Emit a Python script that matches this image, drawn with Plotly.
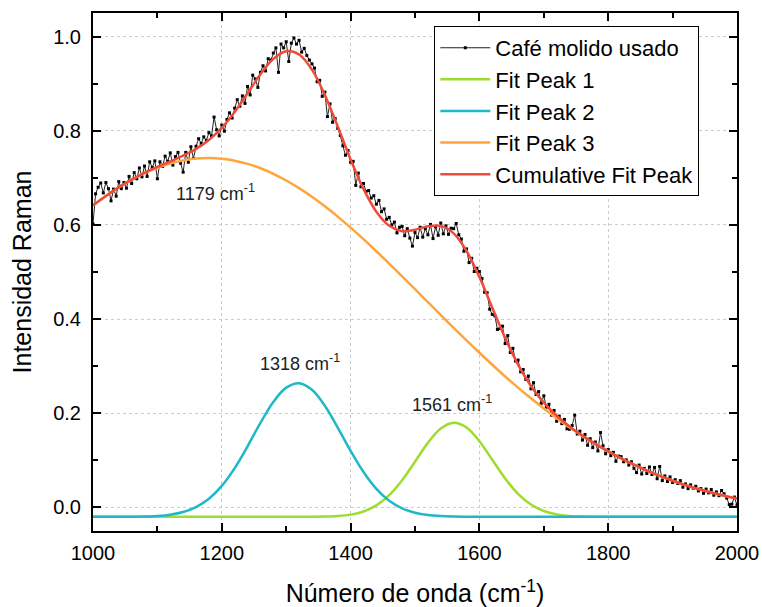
import plotly.graph_objects as go

# ---- measured spectrum (Café molido usado), step 4 cm-1 from 1000 to 2000 ----
data_x = list(range(1000, 2001, 4))
data_y = [
    0.602, 0.666, 0.680, 0.689, 0.668,
    0.690, 0.677, 0.651, 0.676, 0.661,
    0.692, 0.677, 0.690, 0.678, 0.703,
    0.688, 0.711, 0.698, 0.721, 0.702,
    0.725, 0.703, 0.734, 0.722, 0.736,
    0.698, 0.734, 0.724, 0.746, 0.735,
    0.753, 0.727, 0.745, 0.754, 0.731,
    0.712, 0.754, 0.733, 0.766, 0.741,
    0.767, 0.783, 0.773, 0.787, 0.779,
    0.796, 0.789, 0.829, 0.802, 0.789,
    0.812, 0.799, 0.824, 0.838, 0.827,
    0.848, 0.866, 0.852, 0.874, 0.858,
    0.894, 0.876, 0.918, 0.910, 0.892,
    0.924, 0.938, 0.927, 0.953, 0.950,
    0.965, 0.976, 0.924, 0.984, 0.976,
    0.989, 0.947, 0.986, 0.997, 0.984,
    0.992, 0.967, 0.975, 0.960, 0.950,
    0.942, 0.933, 0.904, 0.907, 0.873,
    0.882, 0.830, 0.857, 0.818, 0.826,
    0.805, 0.790, 0.768, 0.748, 0.758,
    0.733, 0.735, 0.684, 0.710, 0.681,
    0.688, 0.671, 0.673, 0.657, 0.662,
    0.644, 0.652, 0.628, 0.634, 0.612,
    0.616, 0.600, 0.606, 0.583, 0.595,
    0.597, 0.577, 0.592, 0.572, 0.555,
    0.584, 0.573, 0.595, 0.574, 0.592,
    0.579, 0.601, 0.571, 0.596, 0.578,
    0.604, 0.581, 0.598, 0.580, 0.593,
    0.592, 0.603, 0.579, 0.570, 0.544,
    0.549, 0.520, 0.529, 0.501, 0.508,
    0.501, 0.486, 0.457, 0.456, 0.421,
    0.410, 0.407, 0.378, 0.380, 0.385,
    0.348, 0.365, 0.329, 0.338, 0.311,
    0.313, 0.288, 0.293, 0.272, 0.279,
    0.252, 0.265, 0.240, 0.246, 0.221,
    0.237, 0.213, 0.219, 0.196, 0.206,
    0.183, 0.194, 0.178, 0.187, 0.167,
    0.166, 0.174, 0.196, 0.156, 0.162,
    0.143, 0.155, 0.132, 0.146, 0.127,
    0.139, 0.120, 0.159, 0.131, 0.114,
    0.123, 0.110, 0.117, 0.098, 0.109,
    0.108, 0.097, 0.101, 0.090, 0.097,
    0.083, 0.074, 0.090, 0.071, 0.083,
    0.072, 0.086, 0.070, 0.085, 0.061,
    0.087, 0.057, 0.067, 0.055, 0.065,
    0.053, 0.059, 0.051, 0.057, 0.043,
    0.050, 0.040, 0.048, 0.041, 0.045,
    0.035, 0.040, 0.030, 0.039, 0.031,
    0.038, 0.026, 0.033, 0.025, 0.036,
    0.029, 0.020, 0.006, 0.007, 0.022,
    0.005,
]

# ---- fitted peaks, sampled every 20 cm-1 ----
fit_x = list(range(1000, 2001, 20))
baseline = -0.02
peak1 = ([-0.02] * 17 +
         [-0.0198, -0.0194, -0.0182, -0.0152, -0.0085, 0.0044, 0.0262, 0.0579,
          0.0972, 0.1371, 0.1677, 0.1800, 0.1699, 0.1407, 0.1013, 0.0616,
          0.0289, 0.0062, -0.0075, -0.0147, -0.0180, -0.0193, -0.0198] +
         [-0.02] * 11)
peak2 = ([-0.0200, -0.0200, -0.0199, -0.0197, -0.0193, -0.0181, -0.0154, -0.0098,
          0.0006, 0.0184, 0.0458, 0.0836, 0.1299, 0.1795, 0.2240, 0.2545,
          0.2639, 0.2499, 0.2160, 0.1697, 0.1202, 0.0752, 0.0395, 0.0142,
          -0.0020, -0.0112, -0.0161, -0.0184, -0.0194, -0.0198] +
         [-0.02] * 21)
peak3 = [0.6415, 0.6615, 0.6797, 0.6958, 0.7098, 0.7213, 0.7304, 0.7369, 0.7408,
         0.7420, 0.7405, 0.7364, 0.7296, 0.7203, 0.7085, 0.6943, 0.6780, 0.6596,
         0.6394, 0.6176, 0.5942, 0.5697, 0.5441, 0.5177, 0.4908, 0.4636, 0.4361,
         0.4087, 0.3815, 0.3547, 0.3285, 0.3030, 0.2782, 0.2545, 0.2317, 0.2100,
         0.1894, 0.1700, 0.1518, 0.1348, 0.1189, 0.1043, 0.0908, 0.0784, 0.0671,
         0.0568, 0.0475, 0.0391, 0.0317, 0.0249, 0.0189]
cumulative = [a + b + c - 2 * baseline for a, b, c in zip(peak1, peak2, peak3)]

peak_labels = ["1179 cm<sup>-1</sup>", "1318 cm<sup>-1</sup>", "1561 cm<sup>-1</sup>"]
label_x = [1190, 1321, 1557]
label_y = [0.668, 0.308, 0.221]

assert len(data_x) == len(data_y)
assert len(fit_x) == len(peak1) == len(peak2) == len(peak3)

FONT = "Liberation Sans, Arial, sans-serif"

fig = go.Figure()
fig.add_trace(go.Scatter(
    x=data_x, y=data_y, mode="lines+markers", name="Café molido usado",
    line=dict(color="#222222", width=1),
    marker=dict(symbol="square", size=3, color="black"),
))
fig.add_trace(go.Scatter(x=fit_x, y=peak1, mode="lines", name="Fit Peak 1",
                         line=dict(color="#9CDD2E", width=2.5, shape="spline")))
fig.add_trace(go.Scatter(x=fit_x, y=peak2, mode="lines", name="Fit Peak 2",
                         line=dict(color="#1FB8C6", width=2.5, shape="spline")))
fig.add_trace(go.Scatter(x=fit_x, y=peak3, mode="lines", name="Fit Peak 3",
                         line=dict(color="#FFA53A", width=2.5, shape="spline")))
fig.add_trace(go.Scatter(x=fit_x, y=cumulative, mode="lines", name="Cumulative Fit Peak",
                         line=dict(color="#F04A3A", width=2.5, shape="spline")))

for t, xx, yy in zip(peak_labels, label_x, label_y):
    fig.add_annotation(x=xx, y=yy, text=t, showarrow=False,
                       font=dict(family=FONT, size=18, color="#222222"),
                       xanchor="center", yanchor="middle")

axis_common = dict(
    showline=True, linewidth=2, linecolor="black", mirror="ticks",
    ticks="inside", ticklen=8, tickwidth=2, tickcolor="black",
    showgrid=True, gridcolor="#cccccc", gridwidth=1, griddash="dot",
    zeroline=False, tickfont=dict(family=FONT, size=20, color="black"),
)

fig.update_xaxes(
    range=[1000, 2000], dtick=200, tick0=1000,
    minor=dict(dtick=100, ticks="inside", ticklen=5, tickwidth=2, tickcolor="black", showgrid=False),
    title=dict(text="Número de onda (cm<sup>-1</sup>)", font=dict(family=FONT, size=25, color="black"), standoff=27),
    ticklabelstandoff=3, automargin=False,
    **axis_common,
)
fig.update_yaxes(
    range=[-0.05, 1.05], dtick=0.2, tick0=0, tickformat=".1f",
    minor=dict(dtick=0.1, ticks="inside", ticklen=5, tickwidth=2, tickcolor="black", showgrid=False),
    title=dict(text="Intensidad Raman", font=dict(family=FONT, size=25, color="black"), standoff=14),
    ticklabelstandoff=6, automargin=False,
    **axis_common,
)

fig.update_layout(
    width=762, height=607,
    margin=dict(l=93, r=25, t=13, b=76, pad=0),
    paper_bgcolor="white", plot_bgcolor="white",
    font=dict(family=FONT, color="black"),
    showlegend=True,
    legend=dict(
        x=0.53, y=0.975, xanchor="left", yanchor="top",
        bgcolor="white", bordercolor="black", borderwidth=1,
        font=dict(family=FONT, size=22, color="black"),
        itemwidth=50, tracegroupgap=0,
    ),
)

fig.write_html(
    "out.html",
    config={"displayModeBar": False},
    post_script="document.body.style.margin='0';document.body.style.overflow='hidden';",
)
